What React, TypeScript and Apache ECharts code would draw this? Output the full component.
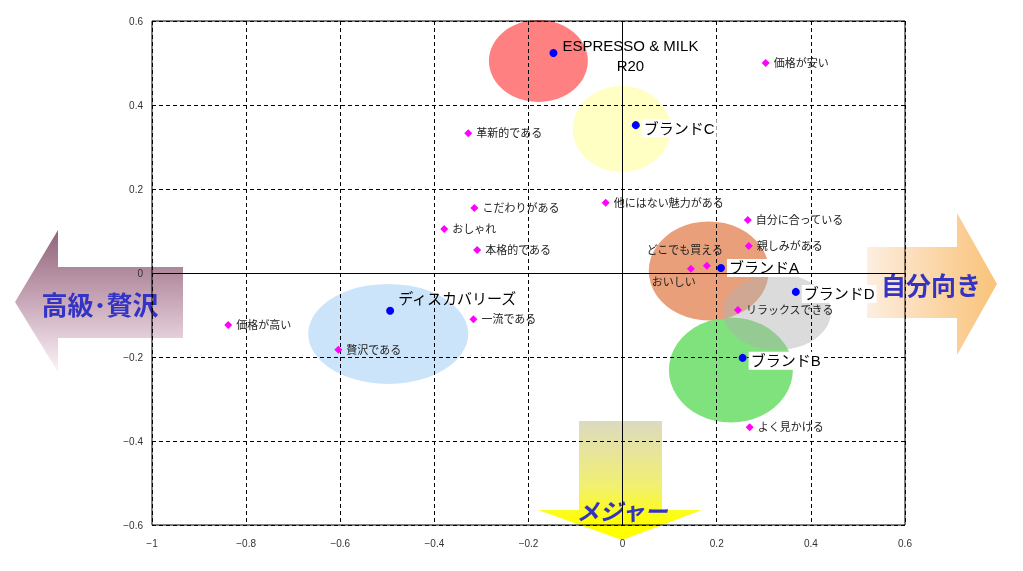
import React, { useEffect, useRef } from "react";
import * as echarts from "echarts";

// ---- data ----
const brandNames = ["ESPRESSO & MILK\nR20", "ブランドC", "ブランドA", "ブランドD", "ブランドB", "ディスカバリーズ"];
const brandX = [-0.147, 0.028, 0.209, 0.368, 0.255, -0.494];
const brandY = [0.524, 0.352, 0.012, -0.045, -0.202, -0.09];

const attrNames = [
  "価格が安い", "革新的である", "他にはない魅力がある", "こだわりがある", "自分に合っている",
  "おしゃれ", "本格的である", "親しみがある", "どこでも買える", "おいしい",
  "リラックスできる", "一流である", "価格が高い", "贅沢である", "よく見かける",
];
const attrX = [0.304, -0.328, -0.036, -0.315, 0.266, -0.379, -0.309, 0.268, 0.179, 0.145, 0.245, -0.317, -0.838, -0.604, 0.27];
const attrY = [0.5, 0.333, 0.167, 0.155, 0.126, 0.105, 0.055, 0.064, 0.017, 0.01, -0.088, -0.11, -0.124, -0.183, -0.367];

const groupNames = ["ディスカバリーズ", "ESPRESSO & MILK R20", "ブランドC", "ブランドB", "ブランドA", "ブランドD"];
const groupX = [-0.498, -0.179, -0.002, 0.23, 0.183, 0.328];
const groupY = [-0.145, 0.505, 0.343, -0.231, 0.005, -0.093];

const axisLabelsX = { min: -1, max: 0.6, interval: 0.2 };
const axisLabelsY = { min: -0.6, max: 0.6, interval: 0.2 };

// ---- styles ----
const groupSize: Record<string, [number, number]> = {
  "ディスカバリーズ": [160, 100],
  "ESPRESSO & MILK R20": [99, 82],
  "ブランドC": [98, 86],
  "ブランドB": [124, 105],
  "ブランドA": [120, 99],
  "ブランドD": [108, 76],
};
const groupColor: Record<string, string> = {
  "ディスカバリーズ": "#cce4fa",
  "ESPRESSO & MILK R20": "#ff8080",
  "ブランドC": "#ffffc4",
  "ブランドB": "#80e27c",
  "ブランドA": "#e9a07a",
  "ブランドD": "rgba(175,175,175,0.45)",
};
const brandLabel: Record<string, any> = {
  "ESPRESSO & MILK\nR20": { position: "inside", offset: [77, 3], align: "center", backgroundColor: "transparent", lineHeight: 20, padding: 0 },
  "ブランドC": { offset: [0, 3] },
  "ブランドA": { offset: [0, 0] },
  "ブランドD": { offset: [0, 2] },
  "ブランドB": { offset: [0, 3] },
  "ディスカバリーズ": { offset: [0, -12], backgroundColor: "transparent" },
};
const attrLabel: Record<string, any> = {
  "どこでも買える": { position: "inside", offset: [-22, -16] },
  "おいしい": { position: "inside", offset: [-17, 13] },
};

const JP = '"Liberation Sans", "Noto Sans CJK JP", sans-serif';
const fmt = (v: number) => String(Math.round(v * 10) / 10).replace("-", "−");

export default function App() {
  const ref = useRef<HTMLDivElement>(null);
  useEffect(() => {
    document.body.style.margin = "0";
    const chart = echarts.init(ref.current!, null, { renderer: "svg" });
    const gradV = (stops: [number, string][]) => ({
      type: "linear", x: 0, y: 0, x2: 0, y2: 1,
      colorStops: stops.map(([offset, color]) => ({ offset, color })),
    });
    const gradH = (stops: [number, string][]) => ({
      type: "linear", x: 0, y: 0, x2: 1, y2: 0,
      colorStops: stops.map(([offset, color]) => ({ offset, color })),
    });
    const bigText = (text: string, x: number, y: number, size: number, italic = false) => ({
      type: "text", x, y, z: -5,
      style: {
        text, fill: "#3333c4",
        font: `${italic ? "italic " : ""}bold ${size}px "Noto Sans CJK JP", sans-serif`,
        textAlign: "center", textVerticalAlign: "middle", align: "center", verticalAlign: "middle",
      },
    });
    chart.setOption({
      animation: false,
      grid: { left: 152, right: 118, top: 21, bottom: 46, show: true, borderColor: "#000", borderWidth: 1, backgroundColor: "transparent" },
      xAxis: {
        type: "value", ...axisLabelsX,
        axisLine: { show: false, onZero: false }, axisTick: { show: false },
        axisLabel: { formatter: fmt, color: "#333", fontSize: 10, fontFamily: '"Liberation Sans Narrow", "Liberation Sans", sans-serif', margin: 13 },
        splitLine: { show: true, lineStyle: { color: "#000", type: [4, 3], width: 1 } },
      },
      yAxis: {
        type: "value", ...axisLabelsY,
        axisLine: { show: false, onZero: false }, axisTick: { show: false },
        axisLabel: { formatter: fmt, color: "#333", fontSize: 10, fontFamily: '"Liberation Sans Narrow", "Liberation Sans", sans-serif', margin: 9 },
        splitLine: { show: true, lineStyle: { color: "#000", type: [4, 3], width: 1 } },
      },
      graphic: [
        {
          type: "polygon", z: -10,
          shape: { points: [[15, 302], [58, 230], [58, 267], [183, 267], [183, 338], [58, 338], [58, 372]] },
          style: { fill: gradV([[0, "#8f6479"], [0.45, "#c3a0b2"], [1, "#fdf3f8"]]) },
        },
        bigText("高級･贅沢", 100, 303, 26),
        {
          type: "polygon", z: -10,
          shape: { points: [[867, 247], [957, 247], [957, 213], [997, 284], [957, 355], [957, 318], [867, 318]] },
          style: { fill: gradH([[0, "#fdeee0"], [0.6, "#fbd3a0"], [1, "#f9c37a"]]) },
        },
        bigText("自分向き", 931, 284, 25),
        {
          type: "polygon", z: -10,
          shape: { points: [[579, 421], [662, 421], [662, 510], [702, 510], [622, 540], [538, 510], [579, 510]] },
          style: { fill: gradV([[0, "#dcdac0"], [0.55, "#f2f070"], [0.85, "#ffff00"], [1, "#ffff00"]]) },
        },
        bigText("メジャー", 622, 510, 23, true),
      ],
      series: [
        {
          type: "scatter", z: -1, silent: true,
          data: groupNames.map((n, i) => ({
            name: n, value: [groupX[i], groupY[i]],
            symbolSize: groupSize[n], itemStyle: { color: groupColor[n], opacity: 1 },
          })),
          symbol: "circle",
        },
        {
          type: "line", data: [], z: 1, silent: true,
          markLine: {
            silent: true, symbol: "none", label: { show: false },
            lineStyle: { color: "#000", type: "solid", width: 1 },
            data: [{ xAxis: 0 }, { yAxis: 0 }],
          },
        },
        {
          type: "scatter", z: 3, symbol: "diamond", symbolSize: 8,
          itemStyle: { color: "#ff00ff", opacity: 1 },
          label: { show: true, position: "right", distance: 4, formatter: "{b}", color: "#222", fontSize: 11, fontFamily: JP },
          data: attrNames.map((n, i) => ({
            name: n, value: [attrX[i], attrY[i]],
            ...(attrLabel[n] ? { label: attrLabel[n] } : {}),
          })),
        },
        {
          type: "scatter", z: 4, symbol: "circle", symbolSize: 8,
          itemStyle: { color: "#0000ff", opacity: 1 },
          label: {
            show: true, position: "right", distance: 2, formatter: "{b}", color: "#000", fontSize: 15,
            fontFamily: JP, backgroundColor: "#fff", padding: [2, 2, 1, 2],
          },
          data: brandNames.map((n, i) => ({
            name: n, value: [brandX[i], brandY[i]],
            label: brandLabel[n],
          })),
        },
      ],
    });
    return () => chart.dispose();
  }, []);
  return <div ref={ref} style={{ position: "fixed", left: 0, top: 0, width: 1023, height: 571 }} />;
}
